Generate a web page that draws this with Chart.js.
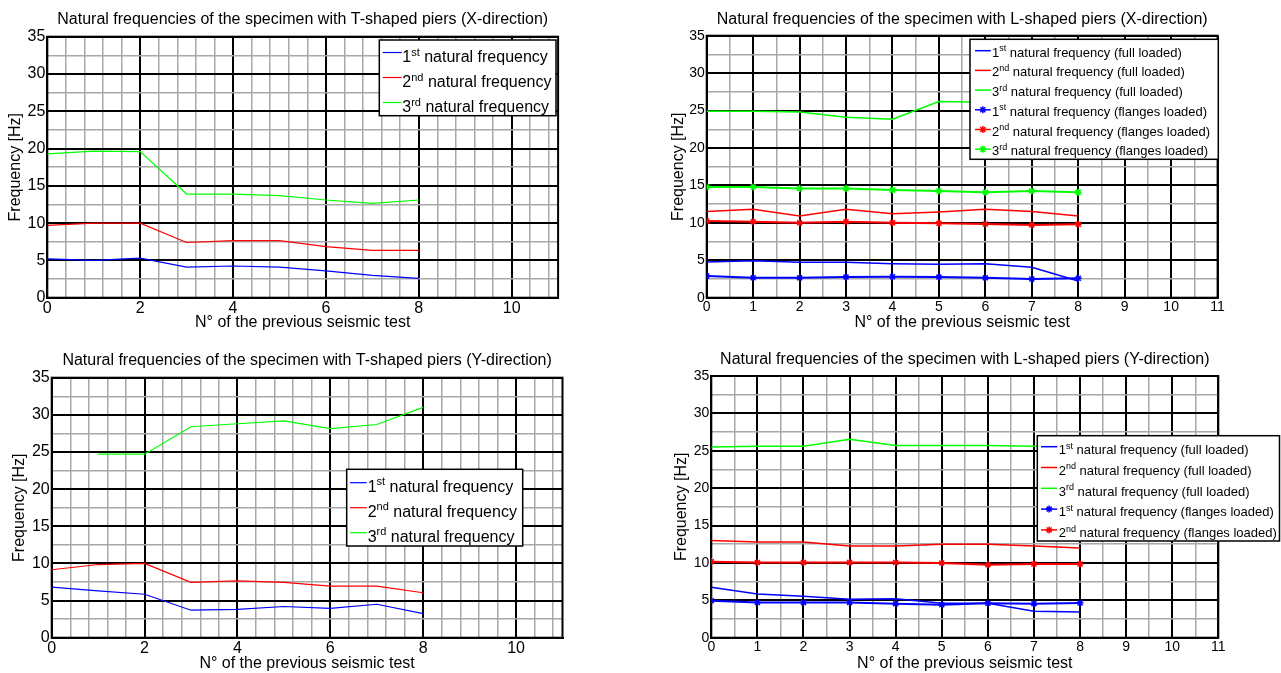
<!DOCTYPE html>
<html>
<head>
<meta charset="utf-8">
<script src="https://cdn.jsdelivr.net/npm/chart.js@4.4.1/dist/chart.umd.min.js"></script>
<style>
  html, body { margin:0; padding:0; background:#fff; width:1281px; height:673px; overflow:hidden; }
  canvas { position:absolute; }
</style>
</head>
<body>
<canvas id="c1" width="640" height="336" style="left:0px;top:0px;"></canvas>
<canvas id="c2" width="641" height="336" style="left:640px;top:0px;"></canvas>
<canvas id="c3" width="640" height="337" style="left:0px;top:336px;"></canvas>
<canvas id="c4" width="641" height="337" style="left:640px;top:336px;"></canvas>
<script>
// ---------------- data ----------------
const tests = [0, 1, 2, 3, 4, 5, 6, 7, 8];

// T-shaped piers, X-direction
const tx_f1 = [5.2, 5.0, 5.3, 4.1, 4.25, 4.1, 3.6, 3.0, 2.6];
const tx_f2 = [9.7, 10.0, 10.0, 7.4, 7.65, 7.65, 6.85, 6.35, 6.35];
const tx_f3 = [19.3, 19.65, 19.6, 13.9, 13.9, 13.7, 13.1, 12.65, 13.1];

// L-shaped piers, X-direction
const lx_full1 = [4.77, 4.95, 4.73, 4.73, 4.55, 4.46, 4.55, 4.06, 2.23];
const lx_full2 = [11.5, 11.8, 10.9, 11.8, 11.2, 11.45, 11.8, 11.5, 10.9];
const lx_full3 = [24.9, 24.9, 24.8, 24.1, 23.85, 26.2, 26.1, 26.0, 25.9];
const lx_fl1 = [2.9, 2.65, 2.65, 2.75, 2.8, 2.75, 2.65, 2.5, 2.6];
const lx_fl2 = [10.25, 10.15, 10.0, 10.15, 10.0, 9.95, 9.85, 9.7, 9.8];
const lx_fl3 = [14.8, 14.8, 14.6, 14.6, 14.4, 14.25, 14.1, 14.25, 14.1];

// T-shaped piers, Y-direction
const ty_f1 = [6.8, 6.3, 5.85, 3.7, 3.8, 4.2, 3.95, 4.5, 3.25];
const ty_f2 = [9.15, 9.85, 10.0, 7.45, 7.65, 7.45, 6.95, 6.95, 6.05];
const ty_f3 = [null, 24.7, 24.7, 28.4, 28.8, 29.2, 28.15, 28.7, 31.0];

// L-shaped piers, Y-direction
const ly_full1 = [6.75, 5.85, 5.55, 5.15, 5.2, 4.6, 4.6, 3.55, 3.45];
const ly_full2 = [13.0, 12.8, 12.8, 12.25, 12.25, 12.5, 12.5, 12.25, 12.0];
const ly_full3 = [25.5, 25.6, 25.6, 26.55, 25.7, 25.7, 25.7, 25.6, 25.6];
const ly_fl1 = [4.95, 4.7, 4.7, 4.7, 4.55, 4.4, 4.6, 4.55, 4.65];
const ly_fl2 = [10.15, 10.05, 10.05, 10.05, 10.05, 10.0, 9.75, 9.85, 9.85];

// ---------------- ticks ----------------
const xTicksT = [0,0.4,0.8,1.2,1.6,2,2.4,2.8,3.2,3.6,4,4.4,4.8,5.2,5.6,6,6.4,6.8,7.2,7.6,8,8.4,8.8,9.2,9.6,10,10.4,10.8];
const xLabelsT = [0, 2, 4, 6, 8, 10];
const xTicksL = [0,0.5,1,1.5,2,2.5,3,3.5,4,4.5,5,5.5,6,6.5,7,7.5,8,8.5,9,9.5,10,10.5,11];
const xLabelsL = [0, 1, 2, 3, 4, 5, 6, 7, 8, 9, 10, 11];
const yTicks = [0,2.5,5,7.5,10,12.5,15,17.5,20,22.5,25,27.5,30,32.5,35];
const yLabels = [0, 5, 10, 15, 20, 25, 30, 35];

// ---------------- texts ----------------
const titles = [
  'Natural frequencies of the specimen with T-shaped piers (X-direction)',
  'Natural frequencies of the specimen with L-shaped piers (X-direction)',
  'Natural frequencies of the specimen with T-shaped piers (Y-direction)',
  'Natural frequencies of the specimen with L-shaped piers (Y-direction)'
];
const xAxisTitle = 'N° of the previous seismic test';
const yAxisTitle = 'Frequency [Hz]';
const ordNum = ['1', '2', '3'];
const ordSup = ['st', 'nd', 'rd'];
const baseText = ' natural frequency';
const fullText = ' (full loaded)';
const flangeText = ' (flanges loaded)';

const BLUE = '#0000ff', RED = '#ff0000', GREEN = '#00ff00';
const FONT = '"Liberation Sans", Arial, Helvetica, sans-serif';
Chart.defaults.font.family = FONT;
Chart.defaults.color = '#000';

function pts(arr) { return tests.map((t, i) => ({ x: t, y: arr[i] })); }

function ds(arr, color, width, marker) {
  return {
    data: pts(arr), borderColor: color, backgroundColor: color,
    borderWidth: width, fill: false, tension: 0,
    pointRadius: marker ? 3.5 : 0, pointStyle: 'star',
    pointBorderColor: color, pointBackgroundColor: color, pointBorderWidth: 1.5
  };
}

// frame around plotting area
const framePlugin = {
  id: 'frameBox',
  beforeDatasetsDraw(chart) {
    const a = chart.chartArea, ctx = chart.ctx;
    ctx.save();
    ctx.strokeStyle = '#000';
    ctx.lineWidth = 2;
    ctx.strokeRect(a.left, a.top, a.right - a.left, a.bottom - a.top);
    ctx.restore();
  }
};

function drawStar(ctx, x, y, r) {
  ctx.beginPath();
  for (let k = 0; k < 4; k++) {
    const ang = k * Math.PI / 4;
    ctx.moveTo(x - r * Math.cos(ang), y - r * Math.sin(ang));
    ctx.lineTo(x + r * Math.cos(ang), y + r * Math.sin(ang));
  }
  ctx.stroke();
}

// legend with superscripts
const legendPlugin = {
  id: 'supLegend',
  afterDraw(chart, args, o) {
    const ctx = chart.ctx;
    ctx.save();
    const [bx0, by0, bx1, by1] = o.box;
    ctx.fillStyle = '#fff';
    ctx.fillRect(bx0, by0, bx1 - bx0, by1 - by0);
    ctx.strokeStyle = '#000';
    ctx.lineWidth = 1.5;
    ctx.strokeRect(bx0, by0, bx1 - bx0, by1 - by0);
    o.items.forEach((it, i) => {
      const y = o.rowY0 + i * o.rowDY;
      ctx.strokeStyle = it.color;
      ctx.lineWidth = it.lw;
      ctx.beginPath();
      ctx.moveTo(o.lineX[0], y);
      ctx.lineTo(o.lineX[1], y);
      ctx.stroke();
      if (it.marker) {
        ctx.lineWidth = 1.5;
        drawStar(ctx, (o.lineX[0] + o.lineX[1]) / 2, y, 3.5);
      }
      const base = y + o.baseOff;
      const F = o.font;
      const sF = Math.round(F * 0.66);
      ctx.fillStyle = '#000';
      ctx.textBaseline = 'alphabetic';
      ctx.textAlign = 'left';
      let x = o.textX;
      ctx.font = F + 'px ' + FONT;
      ctx.fillText(it.num, x, base);
      x += ctx.measureText(it.num).width;
      ctx.font = sF + 'px ' + FONT;
      ctx.fillText(it.sup, x, base - F * 0.42);
      x += ctx.measureText(it.sup).width;
      ctx.font = F + 'px ' + FONT;
      ctx.fillText(it.rest, x, base);
    });
    ctx.restore();
  }
};

function makePanel(id, o) {
  return new Chart(document.getElementById(id), {
    type: 'line',
    data: { datasets: o.datasets },
    options: {
      responsive: false, animation: false, events: [],
      layout: { padding: { left: 0, top: 0, right: o.padRight, bottom: 0 } },
      plugins: {
        legend: { display: false },
        tooltip: { enabled: false },
        title: {
          display: true, text: o.title, fullSize: false, color: '#000',
          font: { size: 16, weight: 'normal' },
          padding: { top: o.tPadTop, bottom: o.tPadBottom }
        },
        supLegend: o.legend
      },
      scales: {
        x: {
          type: 'linear', min: 0, max: 11,
          afterBuildTicks: s => { s.ticks = o.xTicks.map(v => ({ value: v })); },
          afterFit: s => { s.height = o.xH; },
          ticks: {
            autoSkip: false, maxRotation: 0, minRotation: 0, padding: 1,
            font: { size: o.tickSize }, color: '#000',
            callback: v => o.xLabels.includes(v) ? String(v) : ''
          },
          grid: {
            drawTicks: false,
            color: c => (c.tick && o.xLabels.includes(c.tick.value)) ? '#000' : '#a8a8a8',
            lineWidth: c => (c.tick && o.xLabels.includes(c.tick.value)) ? 2 : 1.5
          },
          border: { display: true, color: '#000', width: 2 },
          title: { display: true, text: xAxisTitle, color: '#000', font: { size: 16 }, padding: { top: 0, bottom: o.xTitlePad } }
        },
        y: {
          type: 'linear', min: 0, max: 35,
          afterBuildTicks: s => { s.ticks = yTicks.map(v => ({ value: v })); },
          afterFit: s => { s.width = o.yW; },
          ticks: {
            autoSkip: false, padding: 2, font: { size: o.tickSize }, color: '#000',
            callback: v => yLabels.includes(v) ? String(v) : ''
          },
          grid: {
            drawTicks: false,
            color: c => (c.tick && yLabels.includes(c.tick.value)) ? '#000' : '#a8a8a8',
            lineWidth: c => (c.tick && yLabels.includes(c.tick.value)) ? 2 : 1.5
          },
          border: { display: true, color: '#000', width: 2 },
          title: { display: true, text: yAxisTitle, color: '#000', font: { size: 16 }, padding: { top: o.yTitlePad, bottom: 0 } }
        }
      }
    },
    plugins: [framePlugin, legendPlugin]
  });
}

function item(color, i, rest, marker, lw) {
  return { color: color, num: ordNum[i], sup: ordSup[i], rest: baseText + rest, marker: marker, lw: lw };
}

// Panel 1
makePanel('c1', {
  title: titles[0], padRight: 81.9, yW: 47.3, xH: 38.3, tPadTop: 10.4, tPadBottom: 7.1,
  yTitlePad: 6, xTitlePad: 3.5, tickSize: 16, xTicks: xTicksT, xLabels: xLabelsT,
  datasets: [ds(tx_f1, BLUE, 1.2, false), ds(tx_f2, RED, 1.2, false), ds(tx_f3, GREEN, 1.2, false)],
  legend: {
    box: [379.3, 40, 556, 115.7], lineX: [382.7, 401.7], textX: 402.3,
    rowY0: 52.5, rowDY: 25, baseOff: 9.8, font: 16,
    items: [item(BLUE, 0, '', false, 1.2), item(RED, 1, '', false, 1.2), item(GREEN, 2, '', false, 1.2)]
  }
});

// Panel 2
makePanel('c2', {
  title: titles[1], padRight: 63.4, yW: 66.7, xH: 38.3, tPadTop: 10.4, tPadBottom: 6.1,
  yTitlePad: 28.7, xTitlePad: 4, tickSize: 14, xTicks: xTicksL, xLabels: xLabelsL,
  datasets: [
    ds(lx_full1, BLUE, 1.5, false), ds(lx_full2, RED, 1.5, false), ds(lx_full3, GREEN, 1.5, false),
    ds(lx_fl1, BLUE, 2, true), ds(lx_fl2, RED, 2, true), ds(lx_fl3, GREEN, 2, true)
  ],
  legend: {
    box: [330, 39.3, 578.3, 159.3], lineX: [335, 350.7], textX: 352,
    rowY0: 50.7, rowDY: 19.7, baseOff: 6, font: 13,
    items: [
      item(BLUE, 0, fullText, false, 1.5), item(RED, 1, fullText, false, 1.5), item(GREEN, 2, fullText, false, 1.5),
      item(BLUE, 0, flangeText, true, 1.5), item(RED, 1, flangeText, true, 1.5), item(GREEN, 2, flangeText, true, 1.5)
    ]
  }
});

// Panel 3
makePanel('c3', {
  title: titles[2], padRight: 77.5, yW: 51.7, xH: 35.3, tPadTop: 15, tPadBottom: 7.5,
  yTitlePad: 10.4, xTitlePad: 0, tickSize: 16, xTicks: xTicksT, xLabels: xLabelsT,
  datasets: [ds(ty_f1, BLUE, 1.2, false), ds(ty_f2, RED, 1.2, false), ds(ty_f3, GREEN, 1.2, false)],
  legend: {
    box: [346.7, 133.3, 522.7, 210], lineX: [350, 366.7], textX: 367.7,
    rowY0: 146.7, rowDY: 25, baseOff: 9, font: 16,
    items: [item(BLUE, 0, '', false, 1.2), item(RED, 1, '', false, 1.2), item(GREEN, 2, '', false, 1.2)]
  }
});

// Panel 4
makePanel('c4', {
  title: titles[3], padRight: 62.7, yW: 71.3, xH: 35.3, tPadTop: 14.4, tPadBottom: 6.4,
  yTitlePad: 32.4, xTitlePad: 0, tickSize: 14, xTicks: xTicksL, xLabels: xLabelsL,
  datasets: [
    ds(ly_full1, BLUE, 1.5, false), ds(ly_full2, RED, 1.5, false), ds(ly_full3, GREEN, 1.5, false),
    ds(ly_fl1, BLUE, 2, true), ds(ly_fl2, RED, 2, true)
  ],
  legend: {
    box: [397.3, 99.7, 639.5, 205], lineX: [401, 417.3], textX: 418.7,
    rowY0: 110.7, rowDY: 20.8, baseOff: 7.3, font: 13,
    items: [
      item(BLUE, 0, fullText, false, 1.5), item(RED, 1, fullText, false, 1.5), item(GREEN, 2, fullText, false, 1.5),
      item(BLUE, 0, flangeText, true, 1.5), item(RED, 1, flangeText, true, 1.5)
    ]
  }
});
</script>
</body>
</html>
